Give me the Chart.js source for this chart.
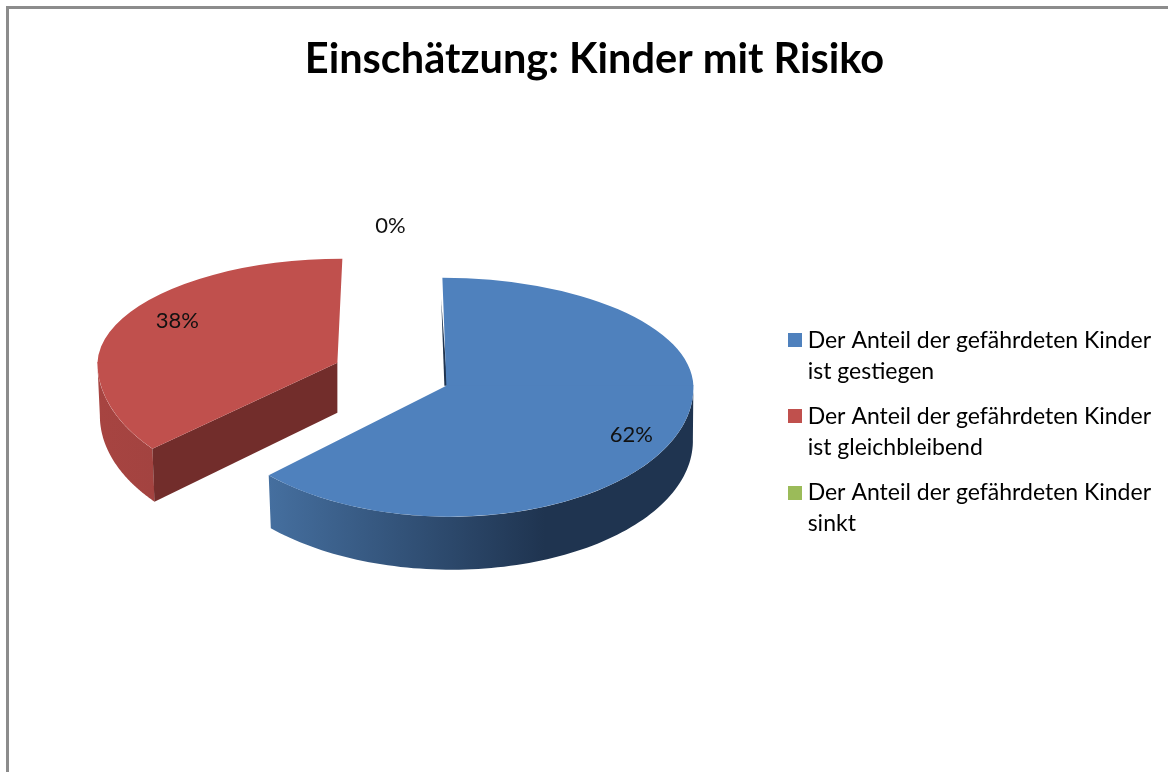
<!DOCTYPE html>
<html>
<head>
<meta charset="utf-8">
<style>html,body{margin:0;padding:0;background:#fff}canvas{display:block}</style>
<script src="https://cdn.jsdelivr.net/npm/chart.js@4"></script>
</head>
<body>
<canvas id="c" width="1168" height="772"></canvas>
<script>
const titleText = 'Einschätzung: Kinder mit Risiko';
const categories = [
  ['Der Anteil der gefährdeten Kinder', 'ist gestiegen'],
  ['Der Anteil der gefährdeten Kinder', 'ist gleichbleibend'],
  ['Der Anteil der gefährdeten Kinder', 'sinkt']
];
const values = [62, 38, 0];
const colors = ['#4f81bd', '#c0504d', '#9bbb59'];

// 3D projection styling, one entry per slice
const view = {
  shiftX: 42.8, shiftY: -45,
  legendShiftY: 50,
  explode: [[0, 0], [-109, -23], [0, 0]],
  rx: [247, 240, 247],
  ryTop: [108, 104, 108],
  ryBottom: [131, 135, 131],
  shearTop: [0.037, -0.048, 0],
  shearBottom: [0.03, 0, 0],
  startNudge: [0, 7.2, 0],
  endNudge: [3.7, 0, 0],
  depth: [53, 53, 53],
  sideStops: [
    [[0, '#456f9f'], [0.65, '#1f3450'], [1, '#1f3450']],
    [[0, '#a74441'], [1, '#a34340']],
    [[0, '#7d9647'], [1, '#7d9647']]
  ],
  cutFace: '#722d2b',
  labelAt: [[185, 49], [-160, -42], [-56, -160]]
};

function swatch(color) {
  const c = document.createElement('canvas');
  c.width = 14; c.height = 14;
  const g = c.getContext('2d');
  g.fillStyle = color; g.fillRect(0, 0, 14, 14);
  return c;
}

function geom(arc, i) {
  const d = Math.PI / 180;
  return {
    sx: arc.x + view.shiftX + view.explode[i][0],
    sy: arc.y + view.shiftY + view.explode[i][1],
    rx: view.rx[i], t: view.ryTop[i], b: view.ryBottom[i],
    st: view.shearTop[i], sb: view.shearBottom[i],
    a0: arc.startAngle + view.startNudge[i] * d,
    a1: arc.endAngle + view.endNudge[i] * d,
    depth: view.depth[i]
  };
}

function drawSide(ctx, g, i) {
  // outer wall: the part of the rim facing the viewer (0..PI)
  const from = Math.max(g.a0, 0), to = Math.min(g.a1, Math.PI);
  if (to > from) {
    const n = 90, top = [], bot = [];
    for (let j = 0; j <= n; j++) {
      const a = from + (to - from) * j / n, c = Math.cos(a), s = Math.sin(a);
      top.push([g.sx + g.rx * c + g.sb * g.b * s, g.sy + g.b * s]);
      bot.push([g.sx + (g.rx - 1.5) * c + 1 + g.sb * g.b * s, g.sy + g.depth + g.b * s]);
    }
    const xs = top.concat(bot).map(p => p[0]);
    const grad = ctx.createLinearGradient(Math.min(...xs), 0, Math.max(...xs), 0);
    view.sideStops[i].forEach(st => grad.addColorStop(st[0], st[1]));
    ctx.beginPath();
    top.forEach((p, j) => j ? ctx.lineTo(p[0], p[1]) : ctx.moveTo(p[0], p[1]));
    bot.reverse().forEach(p => ctx.lineTo(p[0], p[1]));
    ctx.closePath();
    ctx.fillStyle = grad;
    ctx.fill();
  }
  // cut wall of the slice whose start edge faces the viewer
  if (g.a0 > 0 && g.a0 < Math.PI) {
    const c = Math.cos(g.a0), s = Math.sin(g.a0);
    const ex = g.sx + g.rx * c + g.sb * g.b * s, ey = g.sy + g.b * s;
    ctx.beginPath();
    ctx.moveTo(g.sx, g.sy);
    ctx.lineTo(ex, ey);
    ctx.lineTo(ex + 2, ey + g.depth);
    ctx.lineTo(g.sx, g.sy + g.depth - 3);
    ctx.closePath();
    ctx.fillStyle = view.cutFace;
    ctx.fill();
  }
  // sliver of the back wall along a start edge pointing straight up
  if (g.a0 < -1) {
    const ex = g.sx + g.rx * Math.cos(g.a0) + g.st * g.t * Math.sin(g.a0);
    const ey = g.sy + g.t * Math.sin(g.a0);
    ctx.beginPath();
    ctx.moveTo(g.sx + 1, g.sy);
    ctx.lineTo(g.sx - 2, g.sy);
    ctx.lineTo(ex + (g.sx - ex) * 0.2 - 2, ey + (g.sy - ey) * 0.2);
    ctx.closePath();
    ctx.fillStyle = view.sideStops[i][1][1];
    ctx.fill();
  }
}

function drawTop(ctx, arc, g, chart) {
  const R = arc.outerRadius, xs = g.rx / R;
  const s0 = arc.startAngle, s1 = arc.endAngle;
  arc.startAngle = g.a0; arc.endAngle = g.a1; arc.circumference = g.a1 - g.a0;
  [[g.t, g.st, -1], [g.b, g.sb, 1]].forEach(([ry, shear, side]) => {
    const k = ry / R;
    ctx.save();
    ctx.beginPath();
    if (side < 0) ctx.rect(0, 0, chart.width, g.sy + 0.5);
    else ctx.rect(0, g.sy - 0.5, chart.width, chart.height);
    ctx.clip();
    ctx.transform(xs, 0, shear * k, k,
      g.sx - xs * arc.x - shear * k * arc.y, g.sy - k * arc.y);
    arc.draw(ctx);
    ctx.restore();
  });
  arc.startAngle = s0; arc.endAngle = s1; arc.circumference = s1 - s0;
}

const pie3d = {
  id: 'pie3d',
  afterLayout(chart) {
    chart.legend.top += view.legendShiftY;
    chart.legend.bottom += view.legendShiftY;
  },
  beforeDraw(chart) {
    const ctx = chart.ctx;
    ctx.save();
    ctx.strokeStyle = '#8c8c8c';
    ctx.lineWidth = 3;
    ctx.beginPath();
    ctx.moveTo(7.5, chart.height);
    ctx.lineTo(7.5, 7.5);
    ctx.lineTo(chart.width, 7.5);
    ctx.stroke();
    ctx.restore();
  },
  beforeDatasetDraw(chart, args) {
    const ctx = chart.ctx;
    args.meta.data.forEach((arc, i) => {
      if (values[i] <= 0) return;
      const g = geom(arc, i);
      ctx.save();
      drawSide(ctx, g, i);
      drawTop(ctx, arc, g, chart);
      ctx.restore();
    });
    return false;
  },
  afterDatasetsDraw(chart) {
    const ctx = chart.ctx, meta = chart.getDatasetMeta(0);
    ctx.save();
    ctx.font = '22px Lato';
    ctx.fillStyle = '#111';
    ctx.textAlign = 'center';
    ctx.textBaseline = 'middle';
    meta.data.forEach((arc, i) => {
      const g = geom(arc, i);
      ctx.fillText(values[i] + '%', g.sx + view.labelAt[i][0], g.sy + view.labelAt[i][1]);
    });
    ctx.restore();
  }
};

new Chart(document.getElementById('c'), {
  type: 'pie',
  data: {
    labels: categories,
    datasets: [{ data: values, backgroundColor: colors, borderWidth: 0 }]
  },
  plugins: [pie3d],
  options: {
    responsive: false,
    animation: false,
    radius: 247,
    layout: { padding: { left: 28, right: 7, top: 0, bottom: 0 } },
    plugins: {
      tooltip: { enabled: false },
      title: {
        display: true,
        text: titleText,
        color: '#000',
        font: { family: 'Lato', size: 41.5, weight: 'bold', lineHeight: 1.2 },
        padding: { top: 35, bottom: 4.6 }
      },
      legend: {
        display: true,
        position: 'right',
        labels: {
          color: '#222',
          font: { family: 'Lato', size: 23, lineHeight: 1.348 },
          usePointStyle: true,
          pointStyleWidth: 3,
          boxHeight: 14,
          padding: 14,
          generateLabels(chart) {
            return categories.map((t, i) => ({
              text: t, fillStyle: colors[i], strokeStyle: colors[i], lineWidth: 0,
              pointStyle: swatch(colors[i]), index: i, hidden: false
            }));
          }
        }
      }
    }
  }
});
</script>
</body>
</html>
